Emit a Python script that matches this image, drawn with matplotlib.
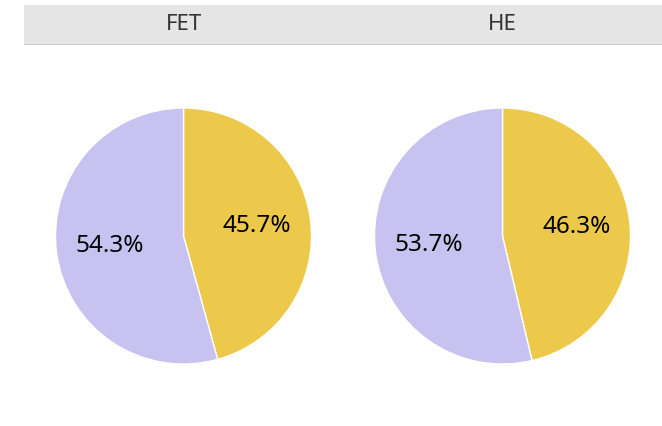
import numpy as np
import matplotlib.pyplot as plt
from matplotlib.patches import Rectangle

plt.rcParams['font.family'] = ['Noto Sans', 'DejaVu Sans']

# facet data
facets = ['FET', 'HE']
groups = ['Yes', 'No']
shares = {
    'FET': [45.7, 54.3],
    'HE': [46.3, 53.7],
}
colors = ['#ecc94b', '#c8c2f0']

W, H = 662, 426
fig = plt.figure(figsize=(W / 100, H / 100), dpi=100)

# facet strip across the top
strip_left, strip_top, strip_h = 24, 5, 40
strip = fig.add_axes([strip_left / W, (H - strip_top - strip_h) / H,
                      (W - strip_left) / W, strip_h / H])
strip.set_xlim(0, 1)
strip.set_ylim(0, 1)
strip.add_patch(Rectangle((0, 0), 1, 1, color='#e5e5e5'))
strip.axhline(0, color='#cccccc', lw=1.5)
strip.axis('off')

panel_w = (W - strip_left) / len(facets)
radius_px = 128
cy = 236

for i, name in enumerate(facets):
    cx = strip_left + panel_w * (i + 0.5)
    strip.text((i + 0.5) / len(facets), 0.5, name, ha='center', va='center',
               fontsize=16, color='#333333')

    ax = fig.add_axes([(cx - radius_px) / W, (H - cy - radius_px) / H,
                       2 * radius_px / W, 2 * radius_px / H])
    ax.pie(shares[name], colors=colors, startangle=90, counterclock=False,
           autopct='%1.1f%%', pctdistance=0.58,
           wedgeprops=dict(edgecolor='white', linewidth=1),
           textprops=dict(fontsize=17.5, color='black'))
    ax.set_xlim(-1, 1)
    ax.set_ylim(-1, 1)
    ax.set_aspect('equal')

fig.savefig('out.png', dpi=100)
